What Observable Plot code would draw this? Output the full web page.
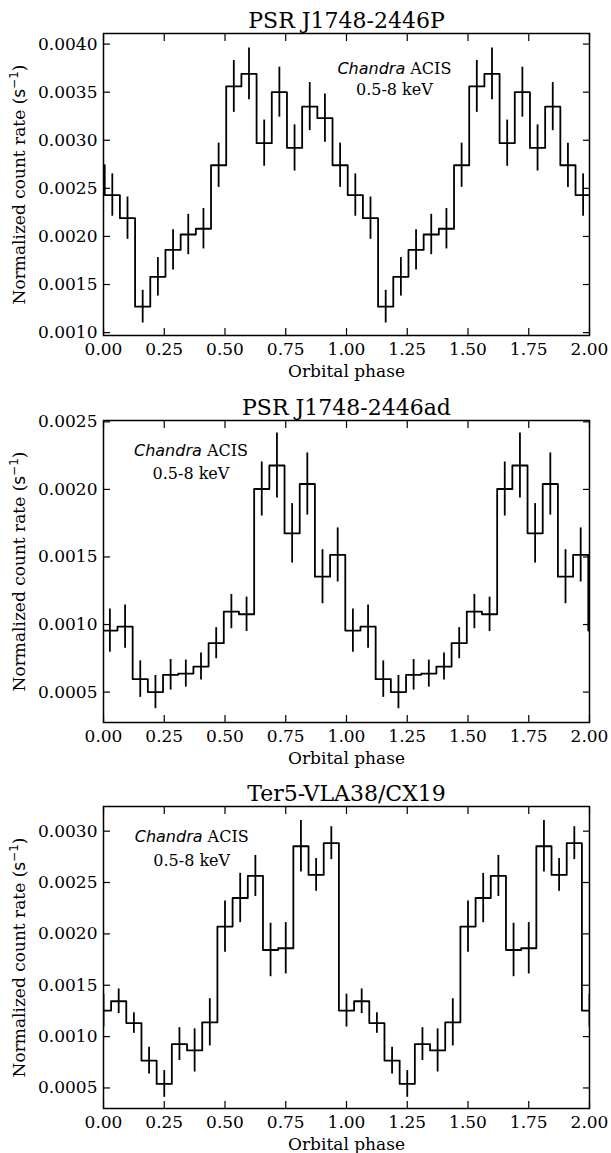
<!DOCTYPE html>
<html><head><meta charset="utf-8">
<script src="https://cdn.jsdelivr.net/npm/d3@7"></script>
<script src="https://cdn.jsdelivr.net/npm/@observablehq/plot@0.6"></script>
<style>
body{margin:0;background:#fff;}
#wrap{position:relative;width:611px;height:1153px;overflow:hidden;background:#fff;}
.panel{position:absolute;left:0;}
</style></head><body><div id="wrap"></div>
<script>
// ---- data ----
const titles = ["PSR J1748-2446P", "PSR J1748-2446ad", "Ter5-VLA38/CX19"];
const xTicks = [0, 0.25, 0.5, 0.75, 1.0, 1.25, 1.5, 1.75, 2.0];
const nBins = 16;   // phase bins per orbit

// panel 1: PSR J1748-2446P  (first and second orbit, as drawn)
const p1Rate1 = [0.00243,0.00219,0.00127,0.00158,0.00186,0.00202,0.00208,0.00274,0.00356,0.00369,0.00297,0.00350,0.00292,0.00335,0.00323,0.00274];
const p1Err1  = [0.00022,0.00022,0.00017,0.00020,0.00021,0.00021,0.00021,0.00023,0.00027,0.00027,0.00024,0.00026,0.00024,0.00025,0.00025,0.00023];
const p1Rate2 = [0.00243,0.00219,0.00127,0.00158,0.00186,0.00202,0.00208,0.00274,0.00356,0.00369,0.00297,0.00350,0.00292,0.00335,0.00274,0.00243];
const p1Err2  = [0.00022,0.00022,0.00017,0.00020,0.00021,0.00021,0.00021,0.00023,0.00027,0.00027,0.00024,0.00026,0.00024,0.00025,0.00023,0.00022];
const p1BinStart = 0.005;          // phase of first bin edge
const p1YDomain = [0.00097, 0.00411];
const p1YTicks = [0.0010, 0.0015, 0.0020, 0.0025, 0.0030, 0.0035, 0.0040];
const p1Note = [{x: 1.197, y: 0.003743, t: "Chandra ACIS"}, {x: 1.197, y: 0.003524, t: "0.5-8 keV"}];

// panel 2: PSR J1748-2446ad
const p2Rate1 = [0.000955,0.000985,0.000596,0.000500,0.000628,0.000637,0.000689,0.000862,0.001096,0.001076,0.002003,0.002177,0.001675,0.002040,0.001354,0.001515];
const p2Err1  = [0.00016,0.00016,0.000135,0.000123,0.000113,0.00010,0.00010,0.000115,0.000127,0.000127,0.00020,0.00024,0.00022,0.00023,0.00020,0.00020];
const p2Rate2 = [0.000955,0.000985,0.000596,0.000500,0.000628,0.000637,0.000689,0.000862,0.001096,0.001076,0.002003,0.002177,0.001675,0.002040,0.001354,0.001515];
const p2Err2  = [0.00016,0.00016,0.000135,0.000123,0.000113,0.00010,0.00010,0.000115,0.000127,0.000127,0.00020,0.00024,0.00022,0.00023,0.00020,0.00020];
const p2BinStart = -0.005;
const p2YDomain = [0.000275, 0.00251];
const p2YTicks = [0.0005, 0.0010, 0.0015, 0.0020, 0.0025];
const p2Note = [{x: 0.36, y: 0.002288, t: "Chandra ACIS"}, {x: 0.36, y: 0.002117, t: "0.5-8 keV"}];

// panel 3: Ter5-VLA38/CX19 (bins centred on multiples of 1/16)
const p3Rate1 = [0.001253,0.001344,0.001132,0.000767,0.000539,0.000927,0.000865,0.001139,0.002071,0.002349,0.002564,0.001843,0.001860,0.002853,0.002574,0.002883];
const p3Err1  = [0.00016,0.00012,0.00010,0.00013,0.00013,0.00016,0.00021,0.00023,0.00025,0.00024,0.00020,0.00026,0.00025,0.00025,0.00016,0.00016];
const p3Rate2 = [0.001253,0.001344,0.001132,0.000767,0.000539,0.000927,0.000865,0.001139,0.002071,0.002349,0.002564,0.001843,0.001860,0.002853,0.002574,0.002883];
const p3Err2  = [0.00016,0.00012,0.00010,0.00013,0.00013,0.00016,0.00021,0.00023,0.00025,0.00024,0.00020,0.00026,0.00025,0.00025,0.00016,0.00016];
const p3BinStart = -0.03125;
const p3YDomain = [0.0003, 0.00324];
const p3YTicks = [0.0005, 0.0010, 0.0015, 0.0020, 0.0025, 0.0030];
const p3Note = [{x: 0.363, y: 0.002941, t: "Chandra ACIS"}, {x: 0.363, y: 0.002710, t: "0.5-8 keV"}];

const yLabel = "Normalized count rate (s\u22121)";
const xLabel = "Orbital phase";

// ---- build ----
const panels = [
  {title: titles[0], r1: p1Rate1, e1: p1Err1, r2: p1Rate2, e2: p1Err2, start: p1BinStart, dom: p1YDomain, ticks: p1YTicks, note: p1Note, top: 0},
  {title: titles[1], r1: p2Rate1, e1: p2Err1, r2: p2Rate2, e2: p2Err2, start: p2BinStart, dom: p2YDomain, ticks: p2YTicks, note: p2Note, top: 387},
  {title: titles[2], r1: p3Rate1, e1: p3Err1, r2: p3Rate2, e2: p3Err2, start: p3BinStart, dom: p3YDomain, ticks: p3YTicks, note: p3Note, top: 773}
];

const serif = "DejaVu Serif";
const sans = "DejaVu Sans";

function buildBins(p) {
  const w = 1 / nBins;
  // wrapped neighbour bin on each side, then both orbits
  const rates = [p.r1[nBins - 1], ...p.r1, ...p.r2, p.r1[0]];
  const errs  = [p.e1[nBins - 1], ...p.e1, ...p.e2, p.e1[0]];
  const step = [], bars = [];
  rates.forEach((v, j) => {
    const x0 = p.start + (j - 1) * w;
    step.push({x: x0, y: v});
    bars.push({x: x0 + w / 2, lo: v - errs[j], hi: v + errs[j]});
    if (j === rates.length - 1) step.push({x: x0 + w, y: v});
  });
  return {step, bars};
}

const wrap = document.getElementById("wrap");
for (const p of panels) {
  const {step, bars} = buildBins(p);
  const chart = Plot.plot({
    width: 611,
    height: 380,
    marginLeft: 103,
    marginRight: 22,
    marginTop: 33,
    marginBottom: 45,
    style: {fontFamily: serif, fontSize: "17px", color: "#000", background: "#fff", overflow: "visible"},
    x: {domain: [0, 2]},
    y: {domain: p.dom},
    marks: [
      Plot.line(step, {x: "x", y: "y", curve: "step-after", stroke: "#000", strokeWidth: 1.8, clip: true}),
      Plot.ruleX(bars, {x: "x", y1: "lo", y2: "hi", stroke: "#000", strokeWidth: 1.8, clip: true}),
      Plot.frame({stroke: "#000", strokeWidth: 1.5}),
      Plot.axisX(xTicks, {anchor: "bottom", tickSize: -7, tickPadding: 14, tickFormat: d => d.toFixed(2), label: null, strokeWidth: 1.2}),
      Plot.axisX(xTicks, {anchor: "top", tickSize: -7, tickFormat: () => "", label: null, strokeWidth: 1.2}),
      Plot.axisY(p.ticks, {anchor: "left", tickSize: -7, tickPadding: 13, tickFormat: d => d.toFixed(4), label: null, strokeWidth: 1.2}),
      Plot.axisY(p.ticks, {anchor: "right", tickSize: -7, tickFormat: () => "", label: null, strokeWidth: 1.2}),
      Plot.text([p.title], {text: d => d, frameAnchor: "top", dy: -6, lineAnchor: "bottom", fontSize: 22, fontFamily: serif, fill: "#000"}),
      Plot.text(p.note, {x: "x", y: "y", text: "t", fontSize: 16, fontFamily: serif, fill: "#000"}),
      Plot.text([xLabel], {text: d => d, frameAnchor: "bottom", dy: 41, fontSize: 17, fontFamily: serif, fill: "#000"}),
      Plot.text([yLabel], {text: d => d, frameAnchor: "left", textAnchor: "middle", dx: -84, rotate: -90, fontSize: 17, fontFamily: serif, fill: "#000"})
    ]
  });
  const div = document.createElement("div");
  div.className = "panel";
  div.style.top = p.top + "px";
  div.appendChild(chart);
  wrap.appendChild(div);

  const svg = d3.select(chart);
  svg.selectAll("text").filter(function () { return this.textContent === "Chandra ACIS"; })
    .each(function () {
      const t = d3.select(this);
      t.text(null);
      t.append("tspan").attr("font-family", sans).attr("font-style", "italic").text("Chandra");
      t.append("tspan").text(" ACIS");
    });
  svg.selectAll("text").filter(function () { return this.textContent === yLabel; })
    .each(function () {
      const t = d3.select(this);
      t.text(null);
      t.append("tspan").text("Normalized count rate (");
      t.append("tspan").attr("font-family", sans).text("s");
      t.append("tspan").attr("font-family", sans).attr("font-size", 12).attr("dy", -7).text("\u22121");
      t.append("tspan").attr("dy", 7).text(")");
    });
}
</script></body></html>
